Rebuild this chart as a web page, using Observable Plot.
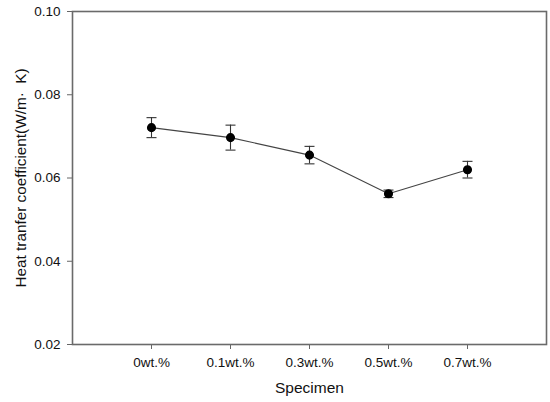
<!DOCTYPE html>
<html>
<head>
<meta charset="utf-8">
<script src="https://cdn.jsdelivr.net/npm/d3@7"></script>
<script src="https://cdn.jsdelivr.net/npm/@observablehq/plot@0.6"></script>
<style>
  html, body { margin: 0; padding: 0; background: #fff; }
  #chart { width: 550px; height: 402px; }
</style>
</head>
<body>
<div id="chart"></div>
<script>
const specimens = ["0wt.%", "0.1wt.%", "0.3wt.%", "0.5wt.%", "0.7wt.%"];
const coefficient = [0.0721, 0.0697, 0.0655, 0.0562, 0.0620];
const errorValue = [0.0024, 0.0030, 0.0021, 0.0009, 0.0020];
const yTicks = [0.02, 0.04, 0.06, 0.08, 0.10];

const data = specimens.map((s, i) => ({
  specimen: s,
  value: coefficient[i],
  lo: coefficient[i] - errorValue[i],
  hi: coefficient[i] + errorValue[i]
}));

// horizontal cap symbol for error bars
const capSymbol = { draw(ctx) { ctx.moveTo(-5, 0); ctx.lineTo(5, 0); } };

const chart = Plot.plot({
  width: 550,
  height: 402,
  marginLeft: 72,
  marginRight: 4,
  marginTop: 11,
  marginBottom: 58,
  style: { fontFamily: "'Liberation Sans', Arial, sans-serif", background: "#fff", color: "#111" },
  x: { type: "point", domain: specimens, padding: 1 },
  y: { domain: [0.02, 0.10] },
  marks: [
    Plot.axisY({
      ticks: yTicks,
      tickFormat: d3.format(".2f"),
      tickSize: 5,
      tickPadding: 7,
      stroke: "#666",
      fontSize: 13.5,
      label: null
    }),
    Plot.axisX({
      tickSize: 5,
      tickPadding: 8,
      stroke: "#666",
      fontSize: 13.5,
      label: null
    }),
    Plot.text(["Heat tranfer coefficient(W/m·  K)"], {
      frameAnchor: "left",
      textAnchor: "middle",
      lineAnchor: "middle",
      dx: -51,
      rotate: -90,
      fontSize: 15.3,
      fill: "#111"
    }),
    Plot.text(["Specimen"], {
      frameAnchor: "bottom",
      dy: 37,
      lineAnchor: "top",
      fontSize: 15.5,
      fill: "#111"
    }),
    Plot.frame({ stroke: "#6a6a6a", strokeWidth: 1.6 }),
    Plot.line(data, { x: "specimen", y: "value", stroke: "#444", strokeWidth: 1.1 }),
    Plot.ruleX(data, { x: "specimen", y1: "lo", y2: "hi", stroke: "#333", strokeWidth: 1.1 }),
    Plot.dot(data, { x: "specimen", y: "lo", symbol: capSymbol, fill: "none", stroke: "#333", strokeWidth: 1.1 }),
    Plot.dot(data, { x: "specimen", y: "hi", symbol: capSymbol, fill: "none", stroke: "#333", strokeWidth: 1.1 }),
    Plot.dot(data, { x: "specimen", y: "value", r: 3.8, fill: "#000", stroke: "#000" })
  ]
});
document.getElementById("chart").appendChild(chart);
</script>
</body>
</html>
